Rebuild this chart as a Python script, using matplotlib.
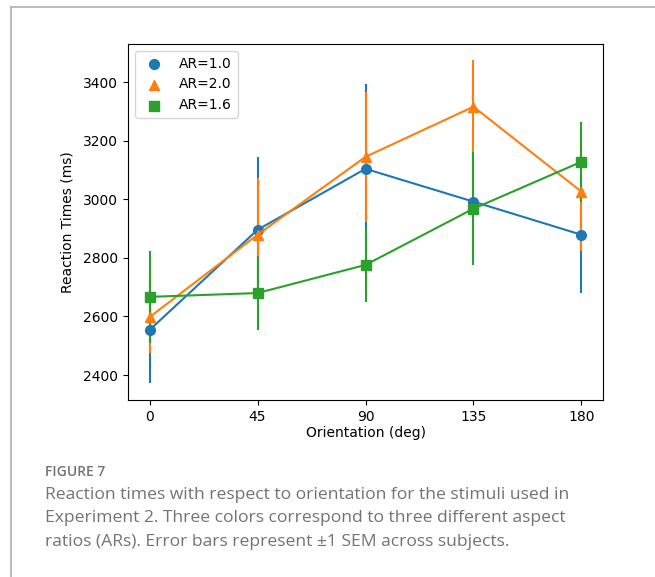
import matplotlib
matplotlib.use("Agg")
import matplotlib.pyplot as plt
from matplotlib.lines import Line2D

orientation = [0, 45, 90, 135, 180]

rt_ar10 = [2554, 2896, 3104, 2992, 2879]
sem_ar10 = [181, 249, 289, 170, 199]

rt_ar20 = [2598, 2879, 3145, 3316, 3026]
sem_ar20 = [123, 194, 222, 158, 202]

rt_ar16 = [2667, 2680, 2776, 2968, 3128]
sem_ar16 = [157, 126, 126, 192, 137]

labels = ["AR=1.0", "AR=2.0", "AR=1.6"]
colors = ["#1f77b4", "#ff7f0e", "#2ca02c"]
markers = ["o", "^", "s"]

fig = plt.figure(figsize=(6.55, 5.77), dpi=100)
W, H = 655, 577

# page frame lines
fig.add_artist(Line2D([11 / W, 1], [1 - 7 / H, 1 - 7 / H], color="#b0b0b0", lw=1.2))
fig.add_artist(Line2D([11 / W, 11 / W], [0, 1 - 7 / H], color="#b0b0b0", lw=1.2))

ax = fig.add_axes([128 / W, 1 - 400 / H, (603 - 128) / W, (400 - 44) / H])

series = [(rt_ar10, sem_ar10), (rt_ar20, sem_ar20), (rt_ar16, sem_ar16)]
for (vals, errs), lab, c, m in zip(series, labels, colors, markers):
    ax.errorbar(orientation, vals, yerr=errs, color=c, marker=m, markersize=7,
                lw=1.5, elinewidth=1.5, capsize=0)
    ax.scatter([], [], color=c, marker=m, s=50, label=lab)

ax.set_xlim(-9, 189)
ax.set_ylim(2315, 3530)
ax.set_xticks(orientation)
ax.set_yticks([2400, 2600, 2800, 3000, 3200, 3400])
ax.tick_params(labelsize=10)
ax.set_xlabel("Orientation (deg)", fontsize=10, labelpad=2)
ax.set_ylabel("Reaction Times (ms)", fontsize=10, labelpad=6)
ax.legend(loc="upper left", fontsize=10)

cap_font = ["Open Sans", "DejaVu Sans"]
fig.text(45 / W, 1 - 472 / H, "FIGURE 7", fontsize=10, color="#737373",
         family=cap_font, weight="semibold", va="center")
caption = ("Reaction times with respect to orientation for the stimuli used in\n"
           "Experiment 2. Three colors correspond to three different aspect\n"
           "ratios (ARs). Error bars represent \u00b11 SEM across subjects.")
fig.text(45 / W, 1 - 487 / H, caption, fontsize=12.6, color="#737373",
         family=cap_font, va="top", linespacing=1.62)

fig.savefig("out.png", dpi=100)
